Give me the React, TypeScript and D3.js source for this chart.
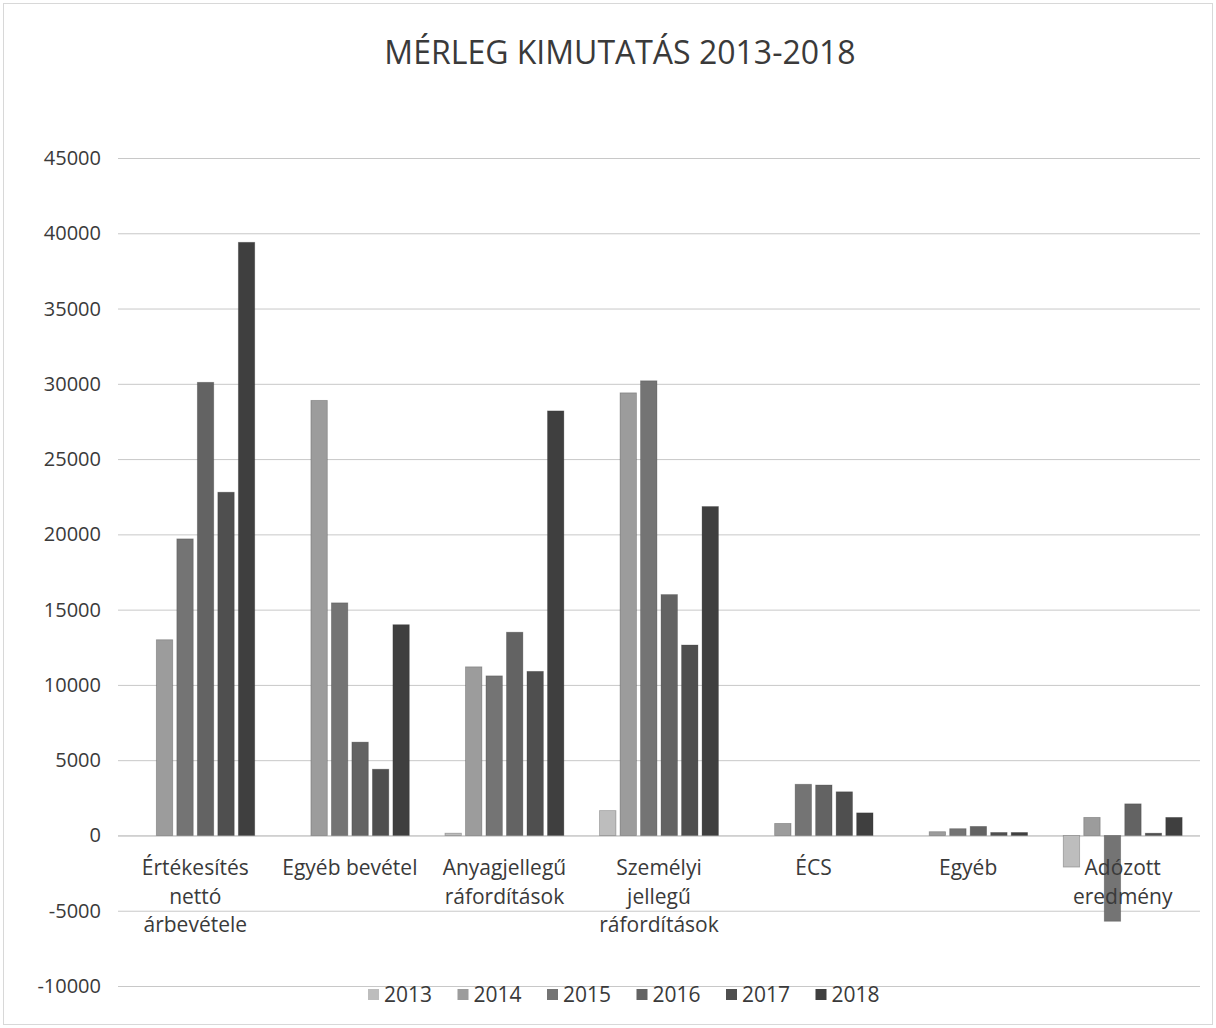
import { useEffect, useRef } from 'react';
import * as d3 from 'd3';

const categories = [
  'Értékesítés nettó árbevétele',
  'Egyéb bevétel',
  'Anyagjellegű ráfordítások',
  'Személyi jellegű ráfordítások',
  'ÉCS',
  'Egyéb',
  'Adózott eredmény',
];
const categoryLines = [
  ['Értékesítés', 'nettó', 'árbevétele'],
  ['Egyéb bevétel'],
  ['Anyagjellegű', 'ráfordítások'],
  ['Személyi', 'jellegű', 'ráfordítások'],
  ['ÉCS'],
  ['Egyéb'],
  ['Adózott', 'eredmény'],
];
const years = ['2013', '2014', '2015', '2016', '2017', '2018'];

const values2013 = [0, 0, 150, 1650, 0, 0, -2100];
const values2014 = [13000, 28900, 11200, 29400, 800, 250, 1200];
const values2015 = [19700, 15450, 10600, 30200, 3400, 450, -5700];
const values2016 = [30100, 6200, 13500, 16000, 3350, 600, 2100];
const values2017 = [22800, 4400, 10900, 12650, 2900, 200, 150];
const values2018 = [39400, 14000, 28200, 21850, 1500, 200, 1200];

const yTicks = [-10000, -5000, 0, 5000, 10000, 15000, 20000, 25000, 30000, 35000, 40000, 45000];
const title = 'MÉRLEG KIMUTATÁS 2013-2018';

const seriesValues = [values2013, values2014, values2015, values2016, values2017, values2018];
const colors = ['#bdbdbd', '#9c9c9c', '#747474', '#636363', '#4f4f4f', '#3f3f3f'];

const W = 1216;
const H = 1028;
const FONT = '"Open Sans", Lato, sans-serif';

export default function App() {
  const svgRef = useRef<SVGSVGElement | null>(null);

  useEffect(() => {
    document.body.style.margin = '0';
    const svg = d3.select(svgRef.current).attr('width', W).attr('height', H);
    svg.selectAll('*').remove();

    // plot area
    const left = 118;
    const right = 1200;

    const x0 = d3.scaleBand<string>().domain(categories).range([left, right]);
    const x1 = d3
      .scaleBand<string>()
      .domain(years)
      .range([0, x0.bandwidth()])
      .paddingInner(0.2)
      .paddingOuter(0.87);
    const y = d3.scaleLinear().domain([-10000, 45000]).range([986, 158]);

    // background + border
    svg.append('rect').attr('width', W).attr('height', H).attr('fill', '#fff');
    svg
      .append('rect')
      .attr('x', 3.5)
      .attr('y', 3.5)
      .attr('width', W - 7)
      .attr('height', H - 7)
      .attr('fill', 'none')
      .attr('stroke', '#d8d8d8');

    // title
    svg
      .append('text')
      .attr('x', 620)
      .attr('y', 64)
      .attr('text-anchor', 'middle')
      .attr('font-family', FONT)
      .attr('font-size', 32)
      .attr('fill', '#3a3a3a')
      .text(title);

    // gridlines
    svg
      .append('g')
      .selectAll('line')
      .data(yTicks)
      .enter()
      .append('line')
      .attr('x1', left)
      .attr('x2', right)
      .attr('y1', (d) => y(d) + 0.5)
      .attr('y2', (d) => y(d) + 0.5)
      .attr('stroke', (d) => (d === 0 ? '#aaa' : '#c8c8c8'))
      .attr('stroke-width', 1);

    // y axis labels
    svg
      .append('g')
      .selectAll('text')
      .data(yTicks)
      .enter()
      .append('text')
      .attr('x', 101)
      .attr('y', (d) => y(d) + 7)
      .attr('text-anchor', 'end')
      .attr('font-family', FONT)
      .attr('font-size', 20)
      .attr('fill', '#3a3a3a')
      .text((d) => String(d));

    // bars
    const groups = svg
      .append('g')
      .selectAll('g')
      .data(years)
      .enter()
      .append('g')
      .attr('fill', (_, i) => colors[i]);

    groups
      .selectAll('rect')
      .data((yr, i) => categories.map((c, j) => ({ c, yr, v: seriesValues[i][j] })))
      .enter()
      .filter((d) => d.v !== 0)
      .append('rect')
      .attr('x', (d) => (x0(d.c) as number) + (x1(d.yr) as number))
      .attr('width', x1.bandwidth())
      .attr('y', (d) => y(Math.max(0, d.v)))
      .attr('height', (d) => Math.abs(y(d.v) - y(0)))
      .attr('stroke', '#333')
      .attr('stroke-opacity', 0.35)
      .attr('stroke-width', 0.8);

    // category labels
    categories.forEach((c, i) => {
      const cx = (x0(c) as number) + x0.bandwidth() / 2;
      svg
        .append('text')
        .attr('x', cx)
        .attr('y', 875)
        .attr('text-anchor', 'middle')
        .attr('font-family', FONT)
        .attr('font-size', 21)
        .attr('fill', '#3a3a3a')
        .selectAll('tspan')
        .data(categoryLines[i])
        .enter()
        .append('tspan')
        .attr('x', cx)
        .attr('dy', (_, k) => (k === 0 ? 0 : 28.5))
        .text((d) => d);
    });

    // legend
    const legend = svg
      .append('g')
      .selectAll('g')
      .data(years)
      .enter()
      .append('g')
      .attr('transform', (_, i) => `translate(${368 + i * 89.5},989)`);
    legend
      .append('rect')
      .attr('width', 11)
      .attr('height', 11)
      .attr('fill', (_, i) => colors[i]);
    legend
      .append('text')
      .attr('x', 16)
      .attr('y', 13)
      .attr('font-family', FONT)
      .attr('font-size', 21)
      .attr('fill', '#3a3a3a')
      .text((d) => d);
  }, []);

  return <svg ref={svgRef} style={{ display: 'block' }}></svg>;
}
